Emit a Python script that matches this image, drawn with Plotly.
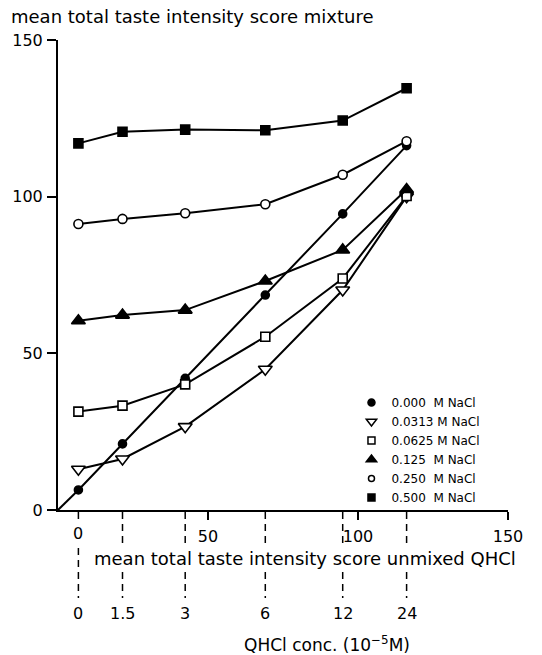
import plotly.graph_objects as go

# ---- data ----
x_unmixed = [6.8, 21.5, 42.4, 69.1, 94.9, 116.2]   # mean total taste intensity score, unmixed QHCl
conc_labels = ["0", "1.5", "3", "6", "12", "24"]    # QHCl conc. (10^-5 M)
nacl_labels = ["0.000\u00a0\u00a0M NaCl", "0.0313\u00a0M NaCl", "0.0625\u00a0M NaCl",
               "0.125\u00a0\u00a0M NaCl", "0.250\u00a0\u00a0M NaCl", "0.500\u00a0\u00a0M NaCl"]
y_0000 = [6.4, 21.1, 42.0, 68.6, 94.5, 116.3]
y_0313 = [13.0, 16.3, 26.6, 44.9, 70.2, 100.0]
y_0625 = [31.4, 33.3, 40.1, 55.3, 73.9, 100.2]
y_0125 = [60.4, 62.2, 63.8, 73.1, 83.0, 102.3]
y_0250 = [91.3, 92.9, 94.7, 97.6, 107.0, 117.7]
y_0500 = [117.0, 120.7, 121.4, 121.2, 124.3, 134.6]
x_ticks = [50, 100, 150]
y_ticks = [0, 50, 100, 150]

series = [y_0000, y_0313, y_0625, y_0125, y_0250, y_0500]
symbols = ["circle", "triangle-down-open", "square-open", "triangle-up", "circle-open", "square"]
sizes = [8, 12, 9, 12, 9, 9]
leg_sizes = [7, 9, 7, 9, 6, 7]

FONT = "DejaVu Sans"
fig = go.Figure()

# identity line from origin to first point of 0.000 M series
fig.add_trace(go.Scatter(x=[0, x_unmixed[0]], y=[0, y_0000[0]], mode="lines",
                         line=dict(color="black", width=2), showlegend=False, hoverinfo="skip"))

for ys, sym, sz in zip(series, symbols, sizes):
    fig.add_trace(go.Scatter(
        x=x_unmixed, y=ys, mode="lines+markers",
        line=dict(color="black", width=2),
        marker=dict(symbol=sym.replace("-open", ""), size=sz,
                    color="white" if "open" in sym else "black",
                    line=dict(color="black", width=1.6)),
        showlegend=False))

for lab, sym, sz in zip(nacl_labels, symbols, leg_sizes):
    fig.add_trace(go.Scatter(
        x=[None], y=[None], mode="markers", name=lab,
        marker=dict(symbol=sym.replace("-open", ""), size=sz,
                    color="white" if "open" in sym else "black",
                    line=dict(color="black", width=1.5))))

L, R, T, B = 48, 34, 40, 145
W, H = 542, 655
pw, ph = W - L - R, H - T - B

def px_x(px):
    return (px - L) / pw

def px_y(py):
    return (H - B - py) / ph

shapes = []
for xv in x_unmixed:
    shapes.append(dict(type="line", xref="x", yref="paper", x0=xv, x1=xv,
                       y0=px_y(512), y1=px_y(598),
                       line=dict(color="black", width=1.5, dash="7px,5px")))

annotations = [
    dict(text="mean total taste intensity score mixture", xref="paper", yref="paper",
         x=px_x(-2), y=px_y(17), xanchor="left", yanchor="middle", showarrow=False,
         font=dict(size=18, family=FONT, color="black")),
    dict(text=conc_labels[0], xref="x", yref="paper", x=x_unmixed[0], y=px_y(533),
         xanchor="center", yanchor="middle", showarrow=False, bgcolor="white",
         font=dict(size=16, family=FONT, color="black")),
    dict(text="mean total taste intensity score unmixed QHCl", xref="paper", yref="paper",
         x=px_x(300), y=px_y(558), xanchor="center", yanchor="middle", showarrow=False,
         bgcolor="white", borderpad=0,
         font=dict(size=18, family=FONT, color="black")),
    dict(text="QHCl conc. (10<sup>\u2212</sup><sup>5</sup>M)", xref="paper", yref="paper",
         x=px_x(323), y=px_y(644), xanchor="center", yanchor="middle", showarrow=False,
         font=dict(size=17, family=FONT, color="black")),
]
for xv, lab in zip(x_unmixed, conc_labels):
    annotations.append(dict(text=lab, xref="x", yref="paper", x=xv, y=px_y(613),
                            xanchor="center", yanchor="middle", showarrow=False,
                            font=dict(size=16, family=FONT, color="black")))

fig.update_layout(
    width=W, height=H, margin=dict(l=L, r=R, t=T, b=B),
    plot_bgcolor="white", paper_bgcolor="white",
    font=dict(family=FONT, color="black", size=16),
    xaxis=dict(range=[0, 150], tickvals=x_ticks, ticks="outside", ticklen=8, tickwidth=2,
               tickcolor="black", showline=True, linecolor="black", linewidth=2,
               showgrid=False, zeroline=False, tickfont=dict(size=16), ticklabelstandoff=3),
    yaxis=dict(range=[0, 150], tickvals=y_ticks, ticks="outside", ticklen=9, tickwidth=2,
               tickcolor="black", showline=True, linecolor="black", linewidth=2,
               showgrid=False, zeroline=False, tickfont=dict(size=16), ticklabelstandoff=1),
    legend=dict(x=px_x(348), y=px_y(388), xanchor="left", yanchor="top",
                bgcolor="rgba(0,0,0,0)", font=dict(size=12, family=FONT, color="black"),
                tracegroupgap=0, itemwidth=30),
    shapes=shapes, annotations=annotations,
)

fig.write_html("out.html")
